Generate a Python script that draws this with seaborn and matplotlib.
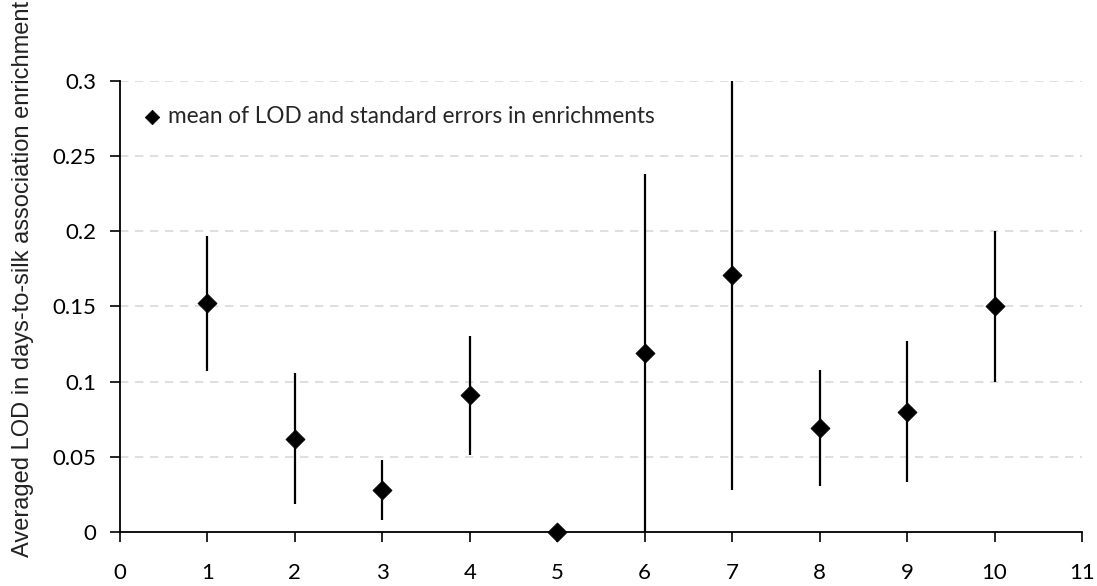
import matplotlib

matplotlib.use("Agg")
import matplotlib.pyplot as plt
import numpy as np
import pandas as pd
import seaborn as sns
from matplotlib.ticker import FuncFormatter

# values
bins = [1, 2, 3, 4, 5, 6, 7, 8, 9, 10]
mean_lod = [0.152, 0.062, 0.028, 0.091, 0.0, 0.119, 0.171, 0.069, 0.080, 0.150]
std_err = [0.045, 0.0435, 0.0198, 0.0395, 0.0, 0.119, 0.143, 0.0385, 0.047, 0.0503]
y_ticks = [0, 0.05, 0.1, 0.15, 0.2, 0.25, 0.3]
x_ticks = list(range(0, 12))

df = pd.DataFrame({"bin": bins, "lod": mean_lod, "se": std_err})

sns.set_style("white")
plt.rcParams["font.family"] = ["Lato", "DejaVu Sans"]

fig, ax = plt.subplots(figsize=(10.97, 5.86), dpi=100)
fig.subplots_adjust(left=0.1094, right=0.9863, top=0.8618, bottom=0.0922)

ax.set_axisbelow(True)
ax.grid(True, axis="y", color="#d9d9d9", linestyle=(0, (5, 4)), linewidth=1.2)

has_err = df[df["se"] > 0]
ax.errorbar(has_err["bin"], has_err["lod"], yerr=has_err["se"], fmt="none",
            ecolor="black", elinewidth=1.6, capsize=0, zorder=3)
sns.scatterplot(data=df, x="bin", y="lod", marker="D", s=95, color="black",
                edgecolor="black", linewidth=0.5, ax=ax, zorder=4, clip_on=False,
                label="mean of LOD and standard errors in enrichments")

ax.set_xlim(0, 11)
ax.set_ylim(0, 0.3)
ax.set_xticks(x_ticks)
ax.set_yticks(y_ticks)
ax.yaxis.set_major_formatter(FuncFormatter(lambda v, p: f"{v:g}"))
ax.tick_params(axis="both", direction="out", length=7, width=1.2, labelsize=16,
               colors="black", bottom=True, left=True)
ax.tick_params(axis="x", pad=15)
ax.tick_params(axis="y", pad=10)
ax.set_xlabel("")
ax.set_ylabel("Averaged LOD in days-to-silk association enrichment", fontsize=17,
              family=["Liberation Sans", "DejaVu Sans"], color="#222222")
ax.yaxis.set_label_coords(-0.089, 0.561)

sns.despine(ax=ax)
for side in ("left", "bottom"):
    ax.spines[side].set_color("black")
    ax.spines[side].set_linewidth(1.3)

ax.legend(loc="upper left", bbox_to_anchor=(0.003, 0.985), frameon=False,
          fontsize=16.3, handlelength=1.0, handletextpad=0.2, borderaxespad=0.4,
          markerscale=0.76)

fig.savefig("out.png", dpi=100, facecolor="white")
plt.close(fig)
